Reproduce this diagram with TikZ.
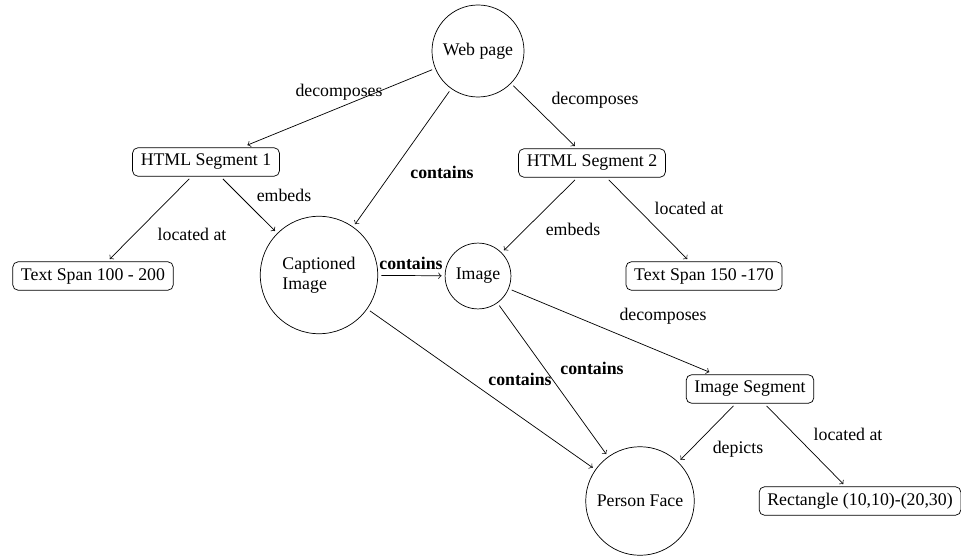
\documentclass[tikz,border=0pt]{standalone}
\usepackage{fontspec}
\setmainfont{Liberation Serif}
\begin{document}
\begin{tikzpicture}[x=0.5619pt,y=-0.5619pt,
  every node/.style={font=\fontsize{10}{11.5}\selectfont},
  circ/.style={draw,circle,inner sep=1pt,outer sep=2pt},
  box/.style={draw,rounded corners=3pt,inner xsep=4.6pt,inner ysep=0pt,minimum height=16pt,outer sep=1.5pt},
  lbl/.style={inner sep=0pt},
  blbl/.style={inner sep=0pt,font=\fontsize{10}{11.5}\selectfont\bfseries},
  conn/.style={->,line width=0.4pt}]
\useasboundingbox (0,0) rectangle (961,556);
% nodes
\node[circ,minimum size=51.7pt] (web) at (478,51) {Web page};
\node[box] (seg1) at (206,162) {HTML Segment 1};
\node[box] (seg2) at (592,163) {HTML Segment 2};
\node[box] (ts1) at (93,276) {Text Span 100 - 200};
\node[circ,minimum size=66pt,align=left] (cap) at (319,275) {Captioned\\Image};
\node[circ,minimum size=37pt] (img) at (478,276) {Image};
\node[box] (ts2) at (704,276) {Text Span 150 -170};
\node[box] (iseg) at (750,389) {Image Segment};
\node[circ,minimum size=61pt] (face) at (640,501) {Person Face};
\node[box] (rect) at (860,501) {Rectangle (10,10)-(20,30)};
% connectors
\draw[conn] (web) -- (seg1);
\draw[conn] (web) -- (seg2);
\draw[conn] (web) -- (cap);
\draw[conn] (seg1) -- (ts1);
\draw[conn] (seg1) -- (cap);
\draw[conn] (cap) -- (img);
\draw[conn] (seg2) -- (img);
\draw[conn] (seg2) -- (ts2);
\draw[conn] (img) -- (iseg);
\draw[conn] (img) -- (face);
\draw[conn] (cap) -- (face);
\draw[conn] (iseg) -- (face);
\draw[conn] (iseg) -- (rect);
% labels
\node[lbl] (l1) at (339,92) {decomposes};
\node[lbl] (l2) at (595,100) {decomposes};
\node[blbl] (l3) at (442,172) {contains};
\node[lbl] (l4) at (192,234) {located at};
\node[lbl] (l5) at (284,195) {embeds};
\node[blbl] (l6) at (411,263) {contains};
\node[lbl] (l7) at (573,229) {embeds};
\node[lbl] (l8) at (689,208) {located at};
\node[lbl] (l9) at (663,316) {decomposes};
\node[blbl] (l10) at (592,368) {contains};
\node[blbl] (l11) at (520,379) {contains};
\node[lbl] (l12) at (738,449) {depicts};
\node[lbl] (l13) at (848,434) {located at};
\end{tikzpicture}
\end{document}
